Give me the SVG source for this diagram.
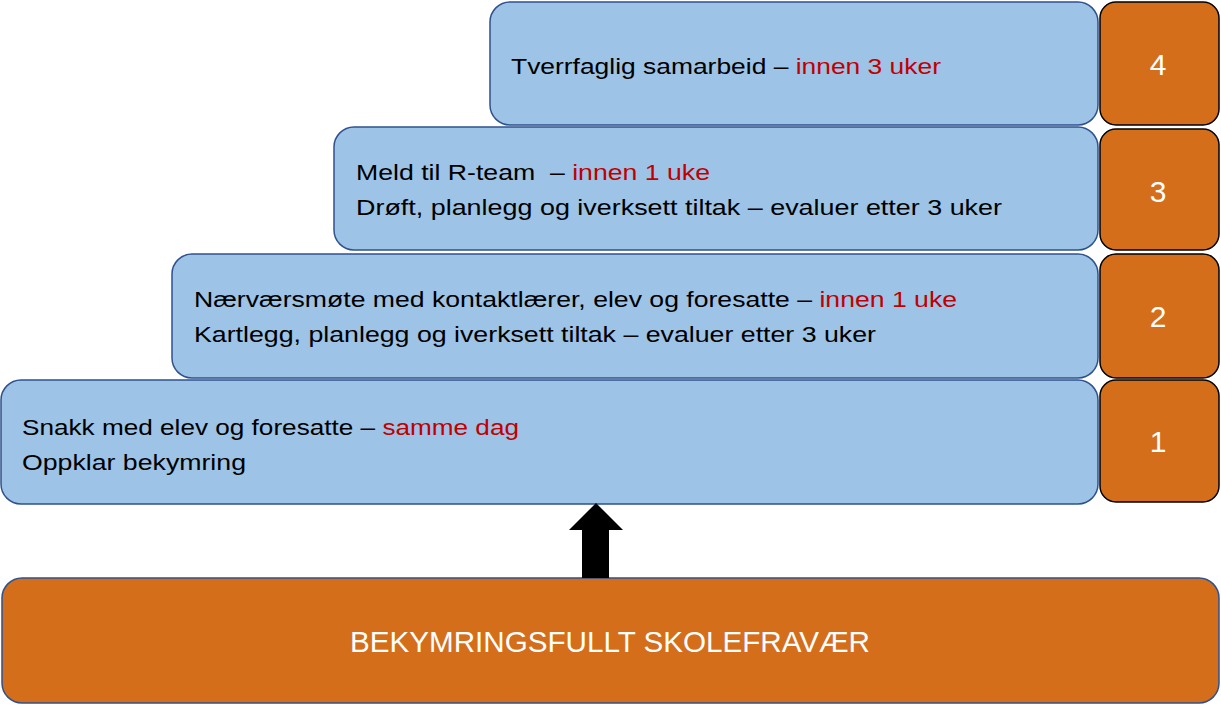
<svg xmlns="http://www.w3.org/2000/svg" width="1221" height="705" viewBox="0 0 1221 705">
<style>
.step{fill:#9DC3E6;stroke:#2F528F;stroke-width:1.5}
.num{fill:#D46E1A;stroke:#000;stroke-width:1.5}
.base{fill:#D46E1A;stroke:#2F528F;stroke-width:1.5}
.t{font-family:"Liberation Sans",Arial,sans-serif;font-size:21.5px;fill:#000}
.r{fill:#C00000}
.n{font-family:"Liberation Sans",Arial,sans-serif;font-size:30px;fill:#fff;text-anchor:middle}
.b{font-family:"Liberation Sans",Arial,sans-serif;font-size:29px;fill:#fff;text-anchor:middle}
</style>
<rect width="1221" height="705" fill="#fff"/>
<g id="step4">
<rect class="step" x="490" y="2" width="608" height="123" rx="20"/>
<text class="t" x="511" y="74" textLength="430" lengthAdjust="spacingAndGlyphs">Tverrfaglig samarbeid – <tspan class="r">innen 3 uker</tspan></text>
</g>
<g id="step3">
<rect class="step" x="334" y="127" width="764" height="123" rx="20"/>
<text class="t" x="356" y="180" textLength="354" lengthAdjust="spacingAndGlyphs" xml:space="preserve">Meld til R-team  – <tspan class="r">innen 1 uke</tspan></text>
<text class="t" x="356" y="215" textLength="646" lengthAdjust="spacingAndGlyphs">Drøft, planlegg og iverksett tiltak – evaluer etter 3 uker</text>
</g>
<g id="step2">
<rect class="step" x="172" y="254" width="926" height="124" rx="20"/>
<text class="t" x="194" y="307" textLength="763" lengthAdjust="spacingAndGlyphs">Nærværsmøte med kontaktlærer, elev og foresatte – <tspan class="r">innen 1 uke</tspan></text>
<text class="t" x="194" y="342" textLength="682" lengthAdjust="spacingAndGlyphs">Kartlegg, planlegg og iverksett tiltak – evaluer etter 3 uker</text>
</g>
<g id="step1">
<rect class="step" x="1" y="380" width="1097" height="124" rx="20"/>
<text class="t" x="22" y="435" textLength="497" lengthAdjust="spacingAndGlyphs">Snakk med elev og foresatte – <tspan class="r">samme dag</tspan></text>
<text class="t" x="22" y="470" textLength="224" lengthAdjust="spacingAndGlyphs">Oppklar bekymring</text>
</g>
<g id="num4">
<rect class="num" x="1100" y="2" width="119" height="123" rx="16"/>
<text class="n" x="1158" y="75">4</text>
</g>
<g id="num3">
<rect class="num" x="1100" y="129" width="119" height="121" rx="16"/>
<text class="n" x="1158" y="202">3</text>
</g>
<g id="num2">
<rect class="num" x="1100" y="254" width="119" height="124" rx="16"/>
<text class="n" x="1158" y="327">2</text>
</g>
<g id="num1">
<rect class="num" x="1100" y="380" width="119" height="122" rx="16"/>
<text class="n" x="1158" y="452">1</text>
</g>
<g id="base">
<rect class="base" x="2" y="578" width="1217" height="125" rx="20"/>
<text class="b" x="610" y="652" textLength="520" lengthAdjust="spacingAndGlyphs">BEKYMRINGSFULLT SKOLEFRAVÆR</text>
</g>
<g id="connectors">
<polygon points="582,578 582,530 569,530 596,503 623,530 609,530 609,578" fill="#000"/>
</g>
</svg>
